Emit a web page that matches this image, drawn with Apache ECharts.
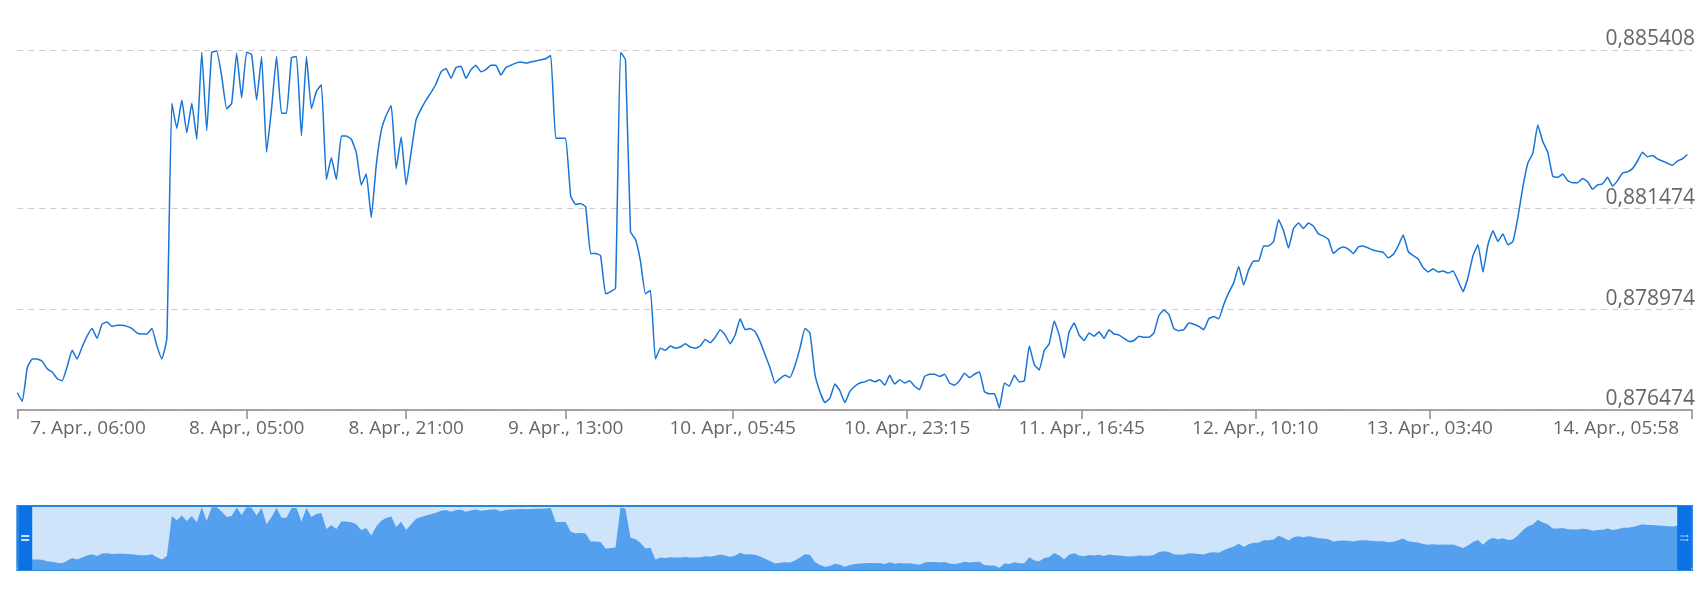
<!DOCTYPE html>
<html><head><meta charset="utf-8">
<script src="https://cdn.jsdelivr.net/npm/echarts@6/dist/echarts.min.js"></script>
<style>html,body{margin:0;padding:0;background:#fff}#c{width:1706px;height:604px}</style>
</head><body><div id="c"></div>
<script>
const dataStart = '2025-04-07 06:00';
const dataEnd = '2025-04-14 05:58';
const stepMinutes = 30;
const rates = [
0.876902,0.876686,0.877523,0.877739,0.877739,0.877685,0.877496,0.877415,0.877253,0.877199,
0.877550,0.877955,0.877739,0.878036,0.878306,0.878495,0.878252,0.878603,0.878657,0.878549,
0.878576,0.878576,0.878549,0.878495,0.878387,0.878360,0.878360,0.878495,0.878063,0.877739,
0.878252,0.884084,0.883463,0.884165,0.883355,0.884084,0.883193,0.885353,0.883409,0.885353,
0.885380,0.884759,0.883949,0.884084,0.885326,0.884219,0.885353,0.885299,0.884165,0.885245,
0.882869,0.883949,0.885245,0.883841,0.883841,0.885218,0.885245,0.883274,0.885245,0.883949,
0.884381,0.884543,0.882194,0.882734,0.882194,0.883274,0.883274,0.883193,0.882869,0.882059,
0.882329,0.881249,0.882545,0.883409,0.883787,0.884030,0.882464,0.883247,0.882059,0.882869,
0.883679,0.883949,0.884165,0.884354,0.884570,0.884867,0.884948,0.884705,0.884975,0.885002,
0.884705,0.884921,0.885029,0.884867,0.884921,0.885029,0.885029,0.884786,0.884975,0.885029,
0.885083,0.885110,0.885083,0.885110,0.885137,0.885164,0.885191,0.885272,0.883220,0.883220,
0.883220,0.881789,0.881573,0.881600,0.881519,0.880358,0.880358,0.880304,0.879359,0.879413,
0.879494,0.885353,0.885164,0.880898,0.880709,0.880169,0.879359,0.879440,0.877739,0.878009,
0.877955,0.878063,0.878009,0.878036,0.878117,0.878036,0.878009,0.878063,0.878225,0.878144,
0.878279,0.878468,0.878333,0.878117,0.878333,0.878738,0.878468,0.878495,0.878414,0.878171,
0.877847,0.877523,0.877145,0.877253,0.877334,0.877280,0.877577,0.878009,0.878495,0.878387,
0.877361,0.876929,0.876659,0.876767,0.877118,0.876956,0.876659,0.876929,0.877064,0.877145,
0.877172,0.877226,0.877172,0.877226,0.877091,0.877334,0.877118,0.877226,0.877145,0.877199,
0.877064,0.876983,0.877307,0.877361,0.877361,0.877307,0.877361,0.877145,0.877091,0.877199,
0.877388,0.877280,0.877361,0.877415,0.876929,0.876875,0.876875,0.876524,0.877145,0.877064,
0.877334,0.877172,0.877199,0.878063,0.877604,0.877469,0.877955,0.878117,0.878684,0.878333,
0.877766,0.878414,0.878630,0.878333,0.878198,0.878387,0.878306,0.878414,0.878252,0.878468,
0.878360,0.878333,0.878252,0.878171,0.878198,0.878306,0.878279,0.878279,0.878387,0.878819,
0.878954,0.878846,0.878495,0.878441,0.878468,0.878630,0.878603,0.878549,0.878468,0.878738,
0.878792,0.878738,0.879089,0.879386,0.879629,0.880034,0.879575,0.879953,0.880169,0.880169,
0.880547,0.880547,0.880655,0.881195,0.880925,0.880493,0.880979,0.881114,0.880979,0.881114,
0.881033,0.880844,0.880790,0.880709,0.880358,0.880466,0.880520,0.880466,0.880358,0.880520,
0.880547,0.880493,0.880439,0.880412,0.880385,0.880250,0.880331,0.880547,0.880817,0.880412,
0.880304,0.880223,0.880007,0.879899,0.879980,0.879899,0.879926,0.879872,0.879926,0.879683,
0.879413,0.879764,0.880304,0.880574,0.879899,0.880574,0.880925,0.880655,0.880844,0.880574,
0.880655,0.881249,0.882005,0.882599,0.882842,0.883544,0.883139,0.882869,0.882275,0.882248,
0.882329,0.882167,0.882113,0.882113,0.882221,0.882140,0.881951,0.882059,0.882086,0.882248,
0.882032,0.882167,0.882356,0.882383,0.882464,0.882653,0.882869,0.882761,0.882788,0.882707,
0.882653,0.882599,0.882545,0.882653,0.882707,0.882815
];
const xTickTimes = ['2025-04-07 06:00','2025-04-08 05:00','2025-04-08 21:00','2025-04-09 13:00','2025-04-10 05:45','2025-04-10 23:15','2025-04-11 16:45','2025-04-12 10:10','2025-04-13 03:40','2025-04-14 05:58'];
const xTickLabels = ['7. Apr., 06:00','8. Apr., 05:00','8. Apr., 21:00','9. Apr., 13:00','10. Apr., 05:45','10. Apr., 23:15','11. Apr., 16:45','12. Apr., 10:10','13. Apr., 03:40','14. Apr., 05:58'];
const yTicks = [0.876474, 0.878974, 0.881474, 0.885408];
const navRange = [0.8762, 0.88555];

function toMs(s) {
  const parts = s.split(' ');
  const d = parts[0].split('-').map(Number);
  const t = parts[1].split(':').map(Number);
  return Date.UTC(d[0], d[1] - 1, d[2], t[0], t[1]);
}
const startMs = toMs(dataStart);
const endMs = toMs(dataEnd);
const tickMs = xTickTimes.map(toMs);
const seriesData = rates.map((v, i) => [startMs + i * stepMinutes * 60000, v]);

const font = "'Open Sans', 'Segoe UI', sans-serif";
const chart = echarts.init(document.getElementById('c'), null, {renderer: 'canvas'});
chart.setOption({
  animation: false,
  grid: [
    {left: 17.3, right: 14, top: 50, bottom: 194, outerBoundsMode: 'none'},
    {left: 17.3, right: 14, top: 506, height: 64, show: true, backgroundColor: '#cde4fa',
     borderColor: '#2b86d8', borderWidth: 2, outerBoundsMode: 'none'}
  ],
  xAxis: [
    {type: 'value', gridIndex: 0, min: startMs, max: endMs, scale: true,
     axisLine: {show: true, lineStyle: {color: '#8c8c8c', width: 1.5}},
     axisTick: {show: true, length: 9, customValues: tickMs, lineStyle: {color: '#8c8c8c', width: 1.5}},
     axisLabel: {customValues: tickMs,
       formatter: function (v) {
         let k = 0, best = Infinity;
         tickMs.forEach((t, j) => { const d = Math.abs(t - v); if (d < best) { best = d; k = j; } });
         return best < 60000 ? xTickLabels[k] : '';
       },
       color: '#666', fontSize: 19, fontFamily: font, margin: 9,
       alignMinLabel: 'left', alignMaxLabel: 'right', padding: [0, 13, 0, 13]},
     splitLine: {show: false}},
    {type: 'value', gridIndex: 1, min: startMs, max: endMs, scale: true,
     offset: -2, axisLine: {show: true, lineStyle: {color: '#c4def8', width: 1}},
     axisTick: {show: false}, axisLabel: {show: false}, splitLine: {show: false}}
  ],
  yAxis: [
    {type: 'value', gridIndex: 0, position: 'right', min: yTicks[0], max: yTicks[yTicks.length - 1],
     axisLine: {show: false}, axisTick: {show: false, customValues: yTicks},
     axisLabel: {inside: true, customValues: yTicks,
       formatter: function (v) { return v.toFixed(6).replace('.', ','); },
       color: '#666', fontSize: 21, fontFamily: font, margin: -3, verticalAlign: 'bottom'},
     splitLine: {show: true, lineStyle: {color: '#cccccc', type: [6, 5], width: 1}}},
    {type: 'value', gridIndex: 1, min: navRange[0], max: navRange[1], show: false}
  ],
  dataZoom: [{
    type: 'slider', xAxisIndex: 1, filterMode: 'none', start: 0, end: 100,
    left: 24, right: 21, top: 506, height: 64,
    backgroundColor: 'rgba(0,0,0,0)', fillerColor: 'rgba(0,0,0,0)', borderColor: 'rgba(0,0,0,0)',
    showDataShadow: false, showDetail: false, brushSelect: false, moveHandleSize: 0,
    moveHandleStyle: {opacity: 0},
    handleIcon: 'path://M0,0H14V64H0Z M3,29V31H11V29Z M3,33V35H11V33Z',
    handleSize: '100%',
    handleStyle: {color: '#0b72e6', borderColor: '#0b72e6', borderWidth: 0, shadowBlur: 0},
    textStyle: {color: 'rgba(0,0,0,0)'}
  }],
  series: [
    {type: 'line', xAxisIndex: 0, yAxisIndex: 0, data: seriesData, symbol: 'none', smooth: 0.12,
     lineStyle: {color: '#1874d8', width: 1.5}, z: 3},
    {type: 'line', xAxisIndex: 1, yAxisIndex: 1, data: seriesData, symbol: 'none', silent: true,
     lineStyle: {width: 0}, areaStyle: {color: '#55a0ee', opacity: 1}}
  ]
});
</script></body></html>
